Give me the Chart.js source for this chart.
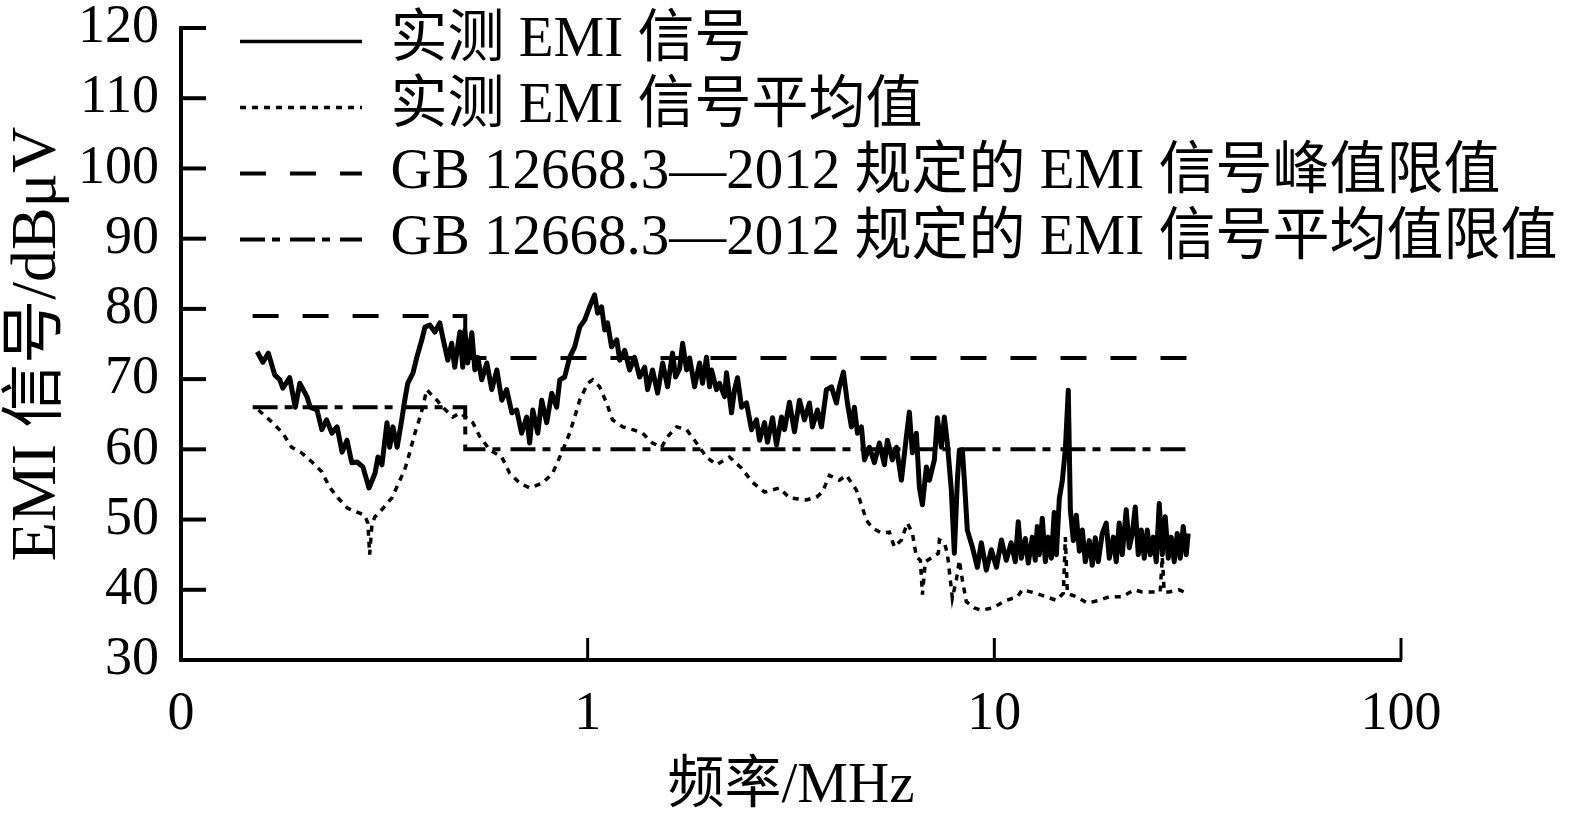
<!DOCTYPE html>
<html>
<head>
<meta charset="utf-8">
<script src="https://cdn.jsdelivr.net/npm/chart.js@4.4.0/dist/chart.umd.min.js"></script>
<style>
  html, body { margin: 0; padding: 0; background: #fff; }
  canvas { display: block; }
</style>
</head>
<body>
<canvas id="emiChart" width="1575" height="821"></canvas>
<script>
// 실측 EMI 신호 (MHz, dBμV)
const MEAS_F = [
  0.154, 0.159, 0.164, 0.170, 0.175, 0.178, 0.185, 0.191, 0.196, 0.204,
  0.208, 0.216, 0.222, 0.228, 0.235, 0.242, 0.249, 0.256, 0.263, 0.271,
  0.280, 0.290, 0.300, 0.305, 0.312, 0.321, 0.326, 0.332, 0.340, 0.349,
  0.355, 0.361, 0.372, 0.380, 0.391, 0.398, 0.409, 0.421, 0.433, 0.440,
  0.453, 0.463, 0.471, 0.485, 0.493, 0.499, 0.507, 0.519, 0.528, 0.537,
  0.549, 0.565, 0.581, 0.598, 0.615, 0.632, 0.651, 0.669, 0.688, 0.708,
  0.720, 0.733, 0.754, 0.771, 0.793, 0.816, 0.839, 0.854, 0.878, 0.903,
  0.929, 0.956, 0.983, 1.011, 1.040, 1.058, 1.082, 1.101, 1.119, 1.145,
  1.179, 1.199, 1.233, 1.268, 1.304, 1.342, 1.381, 1.404, 1.444, 1.486,
  1.529, 1.572, 1.617, 1.645, 1.683, 1.712, 1.751, 1.781, 1.832, 1.884,
  1.916, 1.960, 1.994, 2.017, 2.074, 2.110, 2.171, 2.195, 2.258, 2.297,
  2.336, 2.390, 2.458, 2.529, 2.601, 2.646, 2.722, 2.768, 2.848, 2.913,
  2.997, 3.048, 3.135, 3.225, 3.318, 3.413, 3.511, 3.571, 3.673, 3.757,
  3.865, 3.976, 4.090, 4.160, 4.255, 4.352, 4.452, 4.528, 4.607, 4.712,
  4.793, 4.930, 5.071, 5.217, 5.367, 5.458, 5.615, 5.743, 5.909, 6.077,
  6.181, 6.287, 6.431, 6.542, 6.655, 6.805, 6.922, 7.121, 7.243, 7.410,
  7.536, 7.664, 7.839, 7.974, 8.112, 8.204, 8.345, 8.439, 8.582, 8.829,
  9.083, 9.291, 9.556, 9.831, 10.12, 10.41, 10.70, 11.00, 11.26, 11.45,
  11.65, 11.92, 12.12, 12.40, 12.61, 12.75, 12.90, 13.12, 13.35, 13.57,
  13.81, 14.04, 14.21, 14.45, 14.70, 14.95, 15.20, 15.38, 15.64, 15.91,
  16.18, 16.46, 16.74, 17.12, 17.41, 17.71, 18.01, 18.42, 18.84, 19.17,
  19.61, 19.94, 20.28, 20.63, 21.10, 21.47, 21.84, 22.21, 22.59, 22.98,
  23.37, 23.77, 24.18, 24.59, 25.01, 25.44, 25.88, 26.32, 26.77, 27.23,
  27.69, 28.17, 28.65, 29.14, 29.64, 29.97
];
const MEAS_DB = [
  73.9, 72.4, 73.7, 70.6, 69.9, 68.7, 70.2, 66.0, 69.4, 67.5,
  66.0, 65.6, 62.8, 64.2, 62.3, 63.2, 59.6, 61.3, 58.1, 58.2,
  57.5, 54.5, 56.6, 58.9, 57.8, 63.8, 60.3, 63.2, 60.3, 64.2,
  67.0, 69.4, 70.9, 73.1, 75.6, 77.4, 77.7, 76.7, 78.0, 76.0,
  72.7, 75.1, 71.7, 76.7, 71.7, 77.0, 72.3, 76.6, 71.3, 73.1,
  69.9, 72.3, 68.5, 71.3, 67.0, 68.5, 65.2, 65.6, 62.3, 64.6,
  60.9, 65.6, 62.3, 67.0, 63.8, 68.0, 66.0, 69.9, 70.3, 73.1,
  74.6, 77.4, 78.4, 80.3, 82.0, 79.4, 80.3, 77.0, 78.0, 74.6,
  75.6, 72.7, 74.1, 71.3, 73.1, 70.3, 71.7, 68.5, 71.3, 68.0,
  72.3, 68.9, 73.7, 70.3, 71.5, 75.1, 71.3, 73.0, 68.9, 72.3,
  69.4, 73.1, 68.9, 71.3, 68.5, 69.4, 67.5, 70.9, 65.2, 68.5,
  70.2, 66.0, 66.6, 62.8, 64.2, 61.3, 63.8, 61.0, 64.5, 60.6,
  64.6, 62.8, 66.7, 62.5, 67.0, 64.2, 66.6, 63.2, 65.6, 63.2,
  68.5, 68.9, 66.6, 68.9, 71.0, 66.6, 63.2, 66.0, 62.3, 63.2,
  58.5, 60.3, 58.1, 60.9, 57.8, 61.3, 58.5, 60.3, 55.6, 61.8,
  65.3, 59.5, 62.3, 54.6, 52.1, 57.5, 55.6, 58.5, 64.5, 60.3,
  64.6, 60.9, 54.2, 45.2, 55.6, 59.9, 59.9, 55.6, 48.5, 46.1,
  43.2, 46.7, 42.8, 45.7, 43.2, 47.1, 44.2, 46.7, 44.0, 49.7,
  44.5, 47.3, 43.8, 47.5, 44.2, 49.0, 45.0, 50.2, 44.0, 47.5,
  44.5, 51.0, 45.0, 53.0, 55.6, 60.0, 68.4, 51.4, 47.0, 50.6,
  45.5, 48.5, 44.0, 47.0, 43.5, 47.4, 44.0, 48.0, 49.5, 44.5,
  47.5, 44.0, 49.5, 45.0, 51.4, 46.0, 48.0, 51.8, 45.0, 48.5,
  44.5, 48.5, 45.0, 47.5, 44.0, 52.3, 45.0, 50.4, 44.5, 47.5,
  44.0, 48.0, 44.5, 49.0, 45.0, 48.0
];

// 실측 EMI 신호 평균값
const AVG_F = [
  0.155, 0.165, 0.178, 0.187, 0.198, 0.210, 0.222, 0.232, 0.243, 0.257,
  0.275, 0.283, 0.288, 0.291, 0.295, 0.300, 0.314, 0.330, 0.341, 0.355,
  0.365, 0.376, 0.387, 0.393, 0.402, 0.414, 0.426, 0.440, 0.466, 0.485,
  0.522, 0.543, 0.575, 0.615, 0.643, 0.681, 0.720, 0.775, 0.820, 0.863,
  0.903, 0.929, 0.956, 1.000, 1.029, 1.070, 1.113, 1.151, 1.220, 1.290,
  1.365, 1.444, 1.520, 1.572, 1.655, 1.751, 1.852, 1.960, 2.074, 2.233,
  2.390, 2.543, 2.722, 2.963, 3.135, 3.452, 3.652, 3.779, 3.931, 4.160,
  4.328, 4.580, 4.712, 4.847, 5.015, 5.276, 5.520, 5.678, 5.909, 6.111,
  6.287, 6.431, 6.579, 6.655, 6.767, 7.284, 7.326, 7.536, 7.664, 7.795,
  7.884, 8.064, 8.204, 8.345, 8.533, 8.929, 9.291, 9.887, 10.70, 11.39,
  11.72, 12.68, 13.42, 14.21, 14.78, 14.95, 15.12, 15.91, 16.93, 18.11,
  19.17, 20.63, 22.09, 23.11, 24.45, 25.58, 25.88, 26.17, 26.92, 28.49,
  29.80
];
const AVG_DB = [
  65.6, 64.2, 62.3, 60.3, 59.5, 58.2, 56.8, 54.6, 53.1, 51.6,
  50.9, 50.6, 49.5, 45.0, 49.5, 50.4, 51.6, 53.1, 54.9, 57.1,
  59.5, 62.3, 64.6, 66.0, 68.5, 67.7, 67.0, 66.0, 64.6, 65.2,
  63.8, 61.8, 59.9, 58.9, 56.6, 55.2, 54.5, 55.2, 56.6, 59.5,
  62.3, 64.6, 67.0, 69.4, 69.9, 68.9, 66.6, 64.2, 63.2, 62.8,
  62.3, 60.9, 60.3, 61.8, 63.2, 62.8, 60.9, 58.9, 57.8, 58.9,
  57.3, 55.3, 53.9, 54.5, 53.1, 52.8, 53.2, 53.9, 56.3, 55.6,
  56.3, 54.2, 52.1, 49.9, 48.8, 48.1, 48.2, 46.1, 47.1, 49.5,
  48.1, 44.7, 44.2, 39.3, 44.0, 45.2, 47.1, 46.7, 45.2, 41.4,
  38.8, 41.4, 44.2, 41.4, 38.3, 37.4, 37.1, 37.4, 38.5, 39.0,
  40.0, 39.5, 39.0, 38.5, 39.5, 47.5, 39.5, 39.0, 38.1, 38.5,
  39.0, 39.0, 40.0, 39.7, 39.7, 39.7, 44.7, 39.7, 39.7, 40.0,
  39.5
];

// GB 12668.3—2012 한계값
const LIMIT_F = [0.15, 0.5, 0.5, 30];
const PEAK_LIMIT_DB = [79, 79, 73, 73];
const AVG_LIMIT_DB = [66, 66, 60, 60];

// 축 눈금
const X_TICKS = [0.1, 1, 10, 100];
const X_TICK_LABELS = ['0', '1', '10', '100'];
const Y_TICKS = [30, 40, 50, 60, 70, 80, 90, 100, 110, 120];

const SERIES_LABELS = [
  '实测 EMI 信号',
  '实测 EMI 信号平均值',
  'GB 12668.3—2012 规定的 EMI 信号峰值限值',
  'GB 12668.3—2012 规定的 EMI 信号平均值限值'
];

const SERIF = "'Liberation Serif', 'Noto Sans CJK SC', serif";

const toPoints = (xs, ys) => xs.map((x, i) => ({ x, y: ys[i] }));

/**
 * 안쪽으로 향하는 눈금 표시
 */
const innerTicks = {
  id: 'innerTicks',
  afterDatasetsDraw(chart) {
    const { ctx, chartArea, scales } = chart;
    ctx.save();
    ctx.strokeStyle = '#000';
    ctx.lineWidth = 4;
    Y_TICKS.slice(1).forEach(v => {
      const y = scales.y.getPixelForValue(v);
      ctx.beginPath();
      ctx.moveTo(chartArea.left, y);
      ctx.lineTo(chartArea.left + 25, y);
      ctx.stroke();
    });
    ctx.lineWidth = 3;
    X_TICKS.slice(1).forEach(v => {
      const x = scales.x.getPixelForValue(v);
      ctx.beginPath();
      ctx.moveTo(x, chartArea.bottom);
      ctx.lineTo(x, chartArea.bottom - 22);
      ctx.stroke();
    });
    ctx.restore();
  }
};

// 범례 위치 조정 (차트 영역 밖까지 글자가 보이도록)
const legendPlacer = {
  id: 'legendPlacer',
  afterLayout(chart) {
    const lg = chart.legend;
    lg.left = 231;
    lg.top = 4;
    lg.right = chart.width;
    lg.bottom = chart.height;
    lg.width = lg.right - lg.left;
    lg.height = lg.bottom - lg.top;
  }
};

Chart.defaults.font.family = SERIF;
Chart.defaults.color = '#000';

new Chart(document.getElementById('emiChart'), {
  type: 'line',
  data: {
    datasets: [
      { label: SERIES_LABELS[0], data: toPoints(MEAS_F, MEAS_DB), borderColor: '#000', borderWidth: 5, borderJoinStyle: 'round', pointRadius: 0, tension: 0 },
      { label: SERIES_LABELS[1], data: toPoints(AVG_F, AVG_DB), borderColor: '#000', borderWidth: 3.5, borderDash: [6, 6], pointRadius: 0, tension: 0 },
      { label: SERIES_LABELS[2], data: toPoints(LIMIT_F, PEAK_LIMIT_DB), borderColor: '#000', borderWidth: 4, borderDash: [26, 24], pointRadius: 0, tension: 0 },
      { label: SERIES_LABELS[3], data: toPoints(LIMIT_F, AVG_LIMIT_DB), borderColor: '#000', borderWidth: 4, borderDash: [25, 7, 8, 10], pointRadius: 0, tension: 0 }
    ]
  },
  options: {
    responsive: false,
    animation: false,
    devicePixelRatio: 1,
    layout: { padding: { left: 0, top: 28, right: 174, bottom: 0 } },
    plugins: {
      tooltip: { enabled: false },
      legend: {
        position: 'chartArea',
        align: 'start',
        labels: {
          usePointStyle: true,
          pointStyle: 'line',
          pointStyleWidth: 122,
          padding: 9,
          color: '#000',
          font: { family: SERIF, size: 57 },
          generateLabels: (chart) => chart.data.datasets.map((ds, i) => ({
            text: ds.label,
            fillStyle: '#000',
            strokeStyle: '#000',
            fontColor: '#000',
            lineWidth: i === 0 ? 3.5 : ds.borderWidth,
            lineDash: ds.borderDash || [],
            pointStyle: 'line',
            hidden: false,
            datasetIndex: i
          }))
        }
      }
    },
    scales: {
      x: {
        type: 'logarithmic',
        min: 0.1,
        max: 100,
        afterBuildTicks: (scale) => { scale.ticks = X_TICKS.map(v => ({ value: v })); },
        afterFit: (scale) => { scale.height = 161; },
        grid: { display: false, drawTicks: false },
        border: { display: true, width: 4, color: '#000' },
        ticks: {
          autoSkip: false,
          maxRotation: 0,
          padding: 28,
          color: '#000',
          font: { family: SERIF, size: 54, lineHeight: 1 },
          callback: (v, i) => X_TICK_LABELS[i]
        },
        title: {
          display: true,
          text: '频率/MHz',
          color: '#000',
          font: { family: SERIF, size: 57 },
          padding: { top: 0, bottom: 0 }
        }
      },
      y: {
        min: 30,
        max: 120,
        afterBuildTicks: (scale) => { scale.ticks = Y_TICKS.map(v => ({ value: v })); },
        afterFit: (scale) => { scale.width = 181; },
        grid: { display: false, drawTicks: false },
        border: { display: true, width: 4, color: '#000' },
        ticks: {
          padding: 22,
          color: '#000',
          font: { family: SERIF, size: 54, lineHeight: 0.1 }
        },
        title: {
          display: true,
          text: 'EMI 信号/dBμV',
          color: '#000',
          font: { family: SERIF, size: 64 },
          padding: { top: 0, bottom: 0 }
        }
      }
    }
  },
  plugins: [innerTicks, legendPlacer]
});
</script>
</body>
</html>
